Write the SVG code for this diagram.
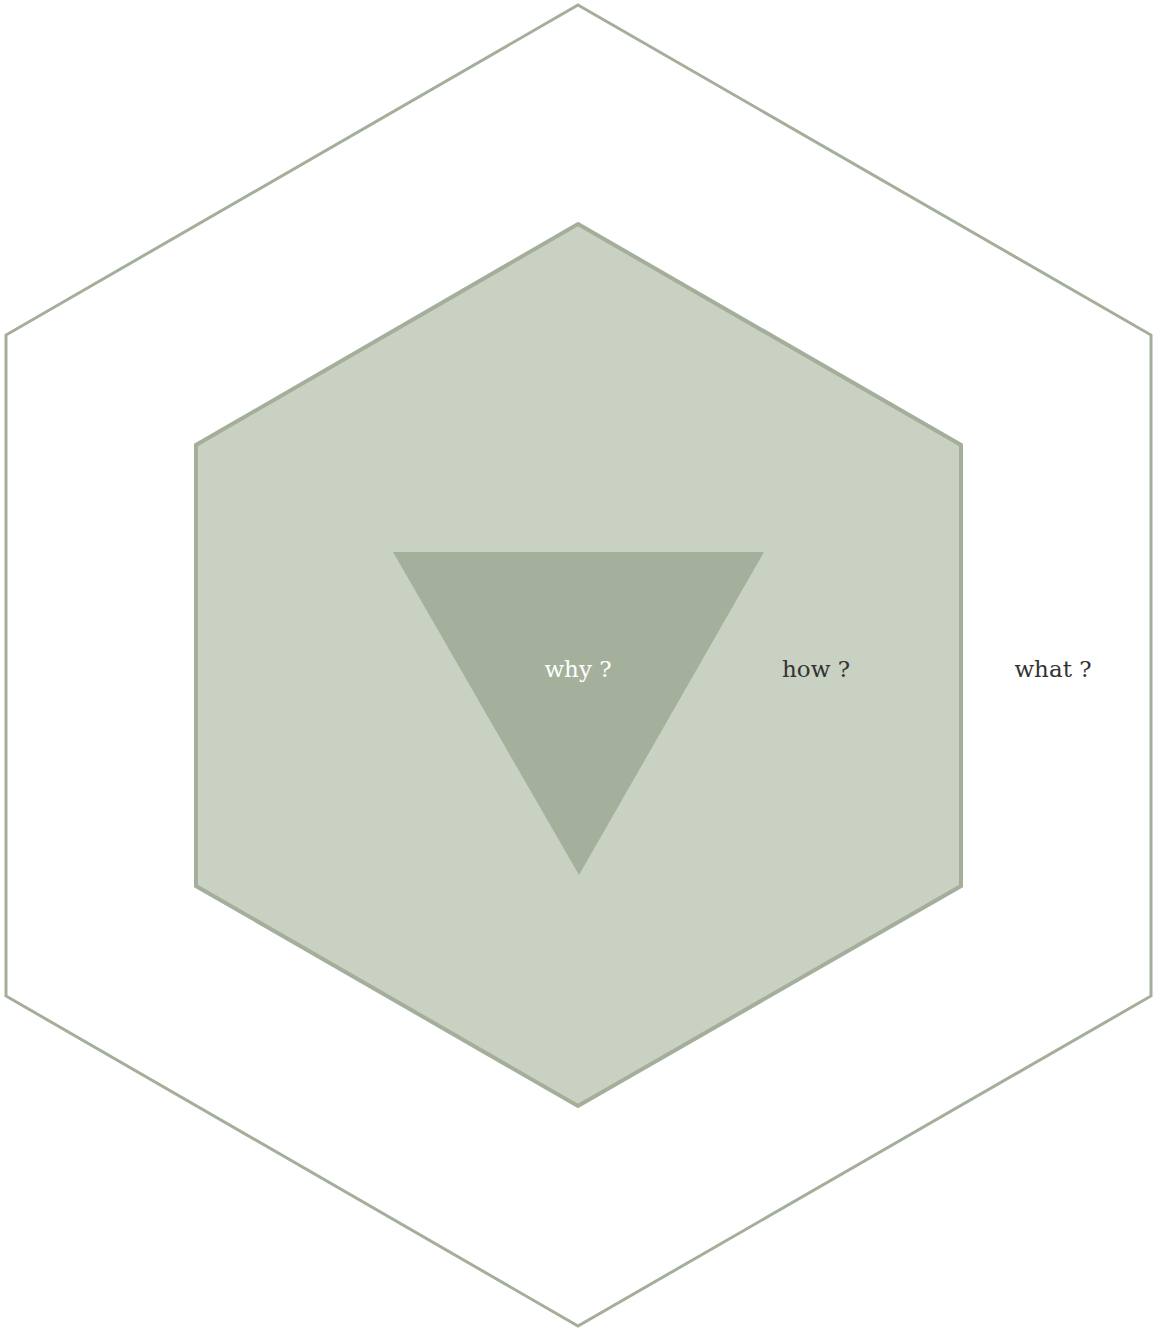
<svg xmlns="http://www.w3.org/2000/svg" width="1153" height="1330" viewBox="0 0 1153 1330">
<style>
.lbl{font-family:"DejaVu Serif","Liberation Serif",serif;font-size:23px;text-anchor:middle}
</style>
<rect width="1153" height="1330" fill="#ffffff"/>
<g id="outer">
<polygon points="578,5 1151,335 1151,996 578,1326 6,996 6,335" fill="#ffffff" stroke="#a4af9b" stroke-width="3"/>
<text class="lbl" x="1053" y="677" fill="#333333">what ?</text>
</g>
<g id="inner">
<polygon points="578,224 961,445 961,886 578,1106 196,886 196,445" fill="#c9d1c3" stroke="#a4af9b" stroke-width="4"/>
<text class="lbl" x="816" y="677" fill="#333333">how ?</text>
</g>
<g id="core">
<polygon points="393,552 764,552 579,875" fill="#a5b09c"/>
<text class="lbl" x="578" y="677" fill="#ffffff">why ?</text>
</g>
<g id="connectors"></g>
</svg>
